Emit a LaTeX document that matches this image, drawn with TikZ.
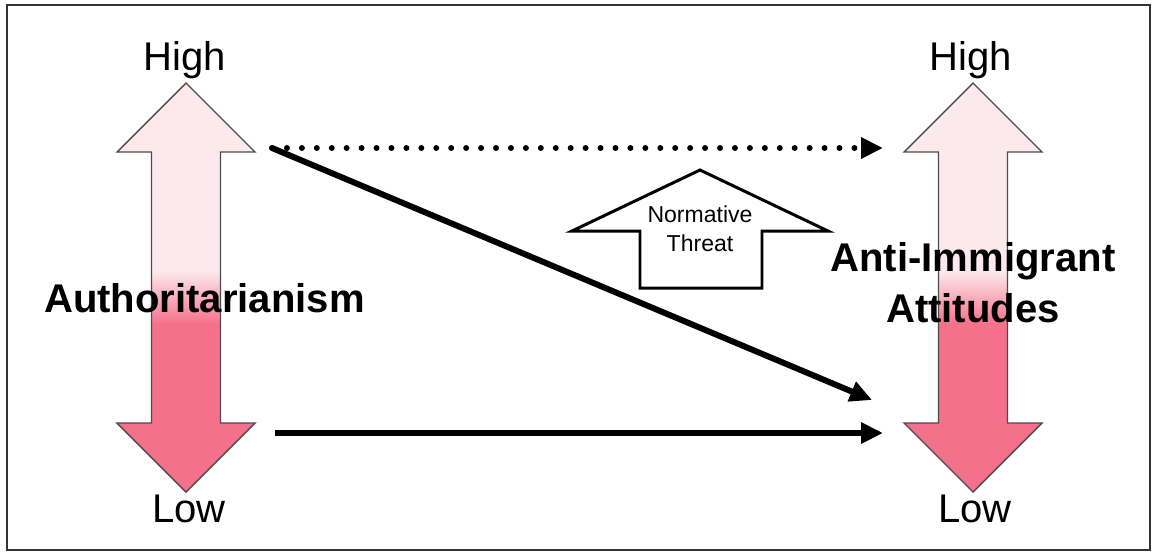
\documentclass[tikz,border=0pt]{standalone}
\usepackage{fontspec}
\setmainfont{Liberation Sans}
\usetikzlibrary{arrows.meta,calc}
\definecolor{pinklight}{RGB}{252,233,237}
\definecolor{pinkdark}{RGB}{245,112,138}
\pgfdeclareverticalshading{pinkfade}{100bp}{color(0bp)=(pinkdark); color(45.5bp)=(pinkdark); color(52bp)=(pinklight); color(100bp)=(pinklight)}
\tikzstyle{scalearrow}=[draw=black!70, line width=0.8pt, line join=miter, shading=pinkfade]
\tikzstyle{threatarrow}=[draw, line width=1.7pt, line join=miter, fill=white]
\tikzstyle{levellabel}=[font=\fontsize{22.8}{27}\selectfont, inner sep=0pt, anchor=base]
\tikzstyle{construct}=[font=\fontsize{22.8}{29}\selectfont\bfseries, align=center, inner sep=0pt]
\tikzstyle{threatlabel}=[font=\fontsize{13.1}{16.5}\selectfont, align=center, inner sep=0pt]
\tikzstyle{arrowedge}=[draw, line width=3.4pt, -{Triangle[length=12.5pt,width=11.5pt]}]
\tikzstyle{dottededge}=[arrowedge, line cap=round, dash pattern=on 0pt off 8.5pt]

\begin{document}
\begin{tikzpicture}[x=0.02cm, y=-0.02cm]
    % Page and frame
    \useasboundingbox[fill=white] (0,0) rectangle (1154,552);
    \draw[black!80, line width=0.9pt] (7,5) rectangle (1150,550);

    % The two High/Low scales
    \foreach \cx/\name in {186/auth, 973/att} {
        \path[scalearrow] (\cx,83) -- ({\cx+69},152) -- ({\cx+34.5},152) -- ({\cx+34.5},423)
            -- ({\cx+69},423) -- (\cx,492) -- ({\cx-69},423) -- ({\cx-34.5},423)
            -- ({\cx-34.5},152) -- ({\cx-69},152) -- cycle;
    }
    \node[levellabel] (authhigh) at (184.5,70) {High};
    \node[levellabel] (authlow) at (189,522) {Low};
    \node[levellabel] (atthigh) at (971,70) {High};
    \node[levellabel] (attlow) at (975,522) {Low};

    % Construct names
    \node[construct, anchor=base] (authoritarianism) at (204.5,312) {Authoritarianism};
    \node[construct] (attitudes) at (973,283) {Anti-Immigrant\\Attitudes};

    % Moderator
    \path[threatarrow] (700,170) -- (828,231) -- (762,231) -- (762,288) -- (640,288)
        -- (640,231) -- (572,231) -- cycle;
    \node[threatlabel] (threat) at (700,229) {Normative\\Threat};

    % Ends of the connectors
    \coordinate (hiout) at (272,148);
    \coordinate (loout) at (275,433);
    \coordinate (hiin) at (883,148);
    \coordinate (diagin) at (872,400);
    \coordinate (loin) at (883,433);

    % Connect the scales
    \path[dottededge] (hiout) -- (hiin);
    \path[arrowedge] (hiout) -- (diagin);
    \path[arrowedge] (loout) -- (loin);
\end{tikzpicture}
\end{document}
